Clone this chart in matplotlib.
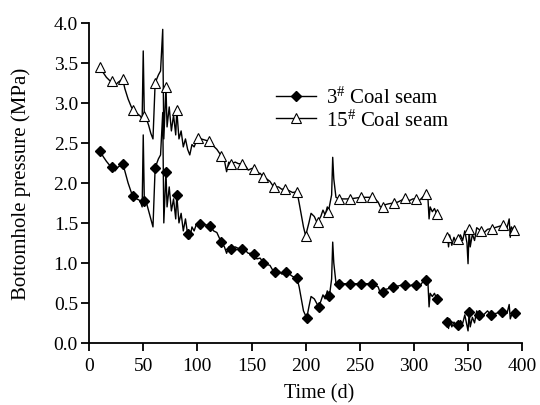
import numpy as np
import matplotlib
matplotlib.use("Agg")
import matplotlib.pyplot as plt

plt.rcParams['font.family'] = ['Liberation Serif', 'DejaVu Serif']
plt.rcParams['mathtext.fontset'] = 'custom'
plt.rcParams['mathtext.rm'] = 'Liberation Serif'
plt.rcParams['mathtext.it'] = 'Liberation Serif:italic'

# ---- 3# coal seam (line) ----
t3 = [10, 13, 16, 19, 21, 24, 27, 31, 33, 36, 39, 41, 44, 47, 49, 50, 51, 53, 55, 57, 59,
      61, 64, 66, 68, 69, 71, 72, 74, 76, 78, 80, 81, 83, 85, 87, 89, 91, 93, 95, 97, 99,
      102, 106, 110, 112, 115, 118, 122, 125, 127, 129, 131, 135, 138, 141, 144, 147, 150,
      152, 155, 158, 161, 164, 167, 170, 172, 175, 178, 182, 185, 188, 192, 194, 196, 198,
      201, 203, 205, 208, 210, 212, 214, 216, 218, 220, 222, 224, 225, 226, 228, 231, 241,
      251, 261, 264, 267, 269, 271, 274, 277, 281, 285, 288, 292, 296, 299, 302, 305, 308,
      311, 313, 314, 315, 317, 319, 321, 325,
      329, 331, 332, 333, 335, 337, 339, 341, 343, 345, 347, 349, 350, 351, 352, 354, 356,
      358, 360, 362, 365, 368, 371, 381, 386, 388, 389, 391, 393]
p3 = [2.40, 2.33, 2.27, 2.22, 2.20, 2.15, 2.20, 2.24, 2.15, 2.00, 1.88, 1.84, 1.80, 1.78, 1.70, 2.60, 1.78, 1.75, 1.65, 1.55, 1.45,
      2.19, 2.30, 2.35, 2.88, 1.50, 2.14, 1.70, 1.95, 1.65, 1.80, 1.55, 1.85, 1.50, 1.62, 1.40, 1.55, 1.36, 1.30, 1.45, 1.40, 1.48,
      1.49, 1.48, 1.47, 1.46, 1.40, 1.38, 1.26, 1.20, 1.12, 1.20, 1.18, 1.20, 1.18, 1.18, 1.16, 1.12, 1.12,
      1.11, 1.05, 1.06, 1.00, 0.98, 0.97, 0.90, 0.89, 0.90, 0.86, 0.88, 0.86, 0.83, 0.81, 0.70, 0.55, 0.40,
      0.31, 0.45, 0.58, 0.55, 0.50, 0.45, 0.52, 0.60, 0.55, 0.65, 0.59, 0.80, 1.26, 1.00, 0.75, 0.74, 0.74,
      0.74, 0.74, 0.72, 0.70, 0.62, 0.64, 0.67, 0.68, 0.70, 0.71, 0.72, 0.72, 0.71, 0.73, 0.72, 0.70, 0.76,
      0.79, 0.74, 0.45, 0.62, 0.58, 0.62, 0.55, np.nan,
      0.28, 0.26, 0.18, 0.30, 0.20, 0.26, 0.22, 0.22, 0.28, 0.24, 0.35, 0.22, 0.15, 0.38, 0.20, 0.32, 0.25,
      0.40, 0.35, 0.30, 0.36, 0.40, 0.35, 0.39, 0.37, 0.48, 0.30, 0.38, 0.37]
mark3_days = [10, 21, 31, 41, 51, 61, 71, 81, 91, 102, 112, 122, 131, 141, 152, 161, 172, 182, 192,
              201, 212, 222, 231, 241, 251, 261, 271, 281, 292, 302, 311, 321, 331, 341, 351, 360,
              371, 381, 393]

# ---- 15# coal seam (line) ----
t15 = [10, 13, 16, 19, 21, 24, 27, 31, 33, 36, 39, 41, 44, 47, 49, 50, 51, 53, 55, 57, 59,
       61, 64, 66, 68, 69, 71, 72, 74, 76, 78, 80, 81, 83, 85, 87, 89, 91, 93, 95, 97, 99,
       101, 106, 111, 115, 118, 122, 125, 127, 129, 131, 135, 138, 141, 144, 147, 150,
       152, 155, 158, 161, 164, 167, 170, 171, 175, 178, 181, 185, 188, 192, 194, 196, 198,
       200, 203, 205, 208, 210, 211, 214, 216, 218, 220, 221, 224, 225, 226, 228, 231, 241,
       251, 261, 264, 267, 269, 271, 274, 277, 282, 285, 288, 292, 296, 299, 302, 305, 308,
       311, 313, 314, 315, 317, 319, 321, 325,
       329, 331, 332, 333, 335, 337, 339, 341, 343, 345, 347, 349, 350, 351, 352, 354, 356,
       358, 362, 365, 368, 372, 382, 386, 388, 389, 390, 392]
p15 = [3.45, 3.38, 3.32, 3.28, 3.27, 3.22, 3.26, 3.30, 3.18, 3.05, 2.95, 2.91, 2.87, 2.84, 2.80, 3.65, 2.84, 2.80, 2.72, 2.62, 2.55,
       3.25, 3.35, 3.40, 3.92, 2.55, 3.20, 2.70, 2.95, 2.65, 2.85, 2.60, 2.91, 2.55, 2.65, 2.45, 2.55, 2.42, 2.35, 2.48, 2.45, 2.52,
       2.56, 2.54, 2.52, 2.46, 2.42, 2.34, 2.28, 2.14, 2.26, 2.24, 2.26, 2.24, 2.24, 2.22, 2.16, 2.18,
       2.18, 2.12, 2.12, 2.07, 2.05, 2.02, 1.96, 1.95, 1.95, 1.92, 1.93, 1.90, 1.88, 1.89, 1.75, 1.60, 1.45,
       1.34, 1.50, 1.62, 1.58, 1.52, 1.51, 1.58, 1.66, 1.60, 1.70, 1.64, 1.85, 2.32, 2.05, 1.82, 1.80, 1.80,
       1.82, 1.82, 1.80, 1.76, 1.70, 1.70, 1.73, 1.74, 1.75, 1.76, 1.78, 1.81, 1.78, 1.80, 1.80, 1.78, 1.82,
       1.86, 1.80, 1.55, 1.70, 1.64, 1.68, 1.61, np.nan,
       1.30, 1.33, 1.20, 1.35, 1.22, 1.32, 1.25, 1.30, 1.35, 1.28, 1.40, 1.25, 0.99, 1.43, 1.20, 1.36, 1.28,
       1.44, 1.40, 1.38, 1.42, 1.43, 1.47, 1.44, 1.55, 1.32, 1.45, 1.41]
mark15_days = [10, 21, 31, 41, 51, 61, 71, 81, 101, 111, 122, 131, 141, 152, 161, 171, 181, 192,
               200, 211, 221, 231, 241, 251, 261, 271, 282, 292, 302, 311, 321, 331, 341, 351,
               362, 372, 382, 392]

labels = [r'3$^{\#}$ Coal seam', r'15$^{\#}$ Coal seam']
xticks = [0, 50, 100, 150, 200, 250, 300, 350, 400]
yticks = [0.0, 0.5, 1.0, 1.5, 2.0, 2.5, 3.0, 3.5, 4.0]

fig = plt.figure(figsize=(5.4, 4.06), dpi=100)
ax = fig.add_axes([0.165, 0.153, 0.802, 0.788])

t3a = np.array(t3); t15a = np.array(t15)
idx3 = list(np.where(np.isin(t3a, mark3_days))[0])
idx15 = list(np.where(np.isin(t15a, mark15_days))[0])

ax.plot(t3a, p3, color='black', lw=1.0, marker='D', ms=5.5, mfc='black', mec='black',
        markevery=idx3, label=labels[0])
ax.plot(t15a, p15, color='black', lw=1.0, marker='^', ms=7, mfc='white', mec='black',
        mew=0.8, markevery=idx15, label=labels[1])

ax.set_xlim(0, 400)
ax.set_ylim(0, 4.0)
ax.set_xticks(xticks)
ax.set_yticks(yticks)
ax.set_yticklabels([f'{v:.1f}' for v in yticks])
for s in ['top', 'right']:
    ax.spines[s].set_visible(False)
for s in ['left', 'bottom']:
    ax.spines[s].set_linewidth(1.3)
ax.tick_params(direction='out', length=6, width=1.3, labelsize=14, pad=2)
ax.tick_params(axis='x', pad=4)
ax.set_xlabel('Time (d)', fontsize=14.5)
ax.set_ylabel('Bottomhole pressure (MPa)', fontsize=15)
ax.xaxis.set_label_coords(0.53, -0.125)
ax.yaxis.set_label_coords(-0.135, 0.5)

leg = ax.legend(loc='upper left', bbox_to_anchor=(0.432, 0.80), frameon=False,
                fontsize=15, handlelength=1.9, handletextpad=0.5, labelspacing=0.05,
                borderpad=0, borderaxespad=0)

fig.savefig('out.png', dpi=100)
